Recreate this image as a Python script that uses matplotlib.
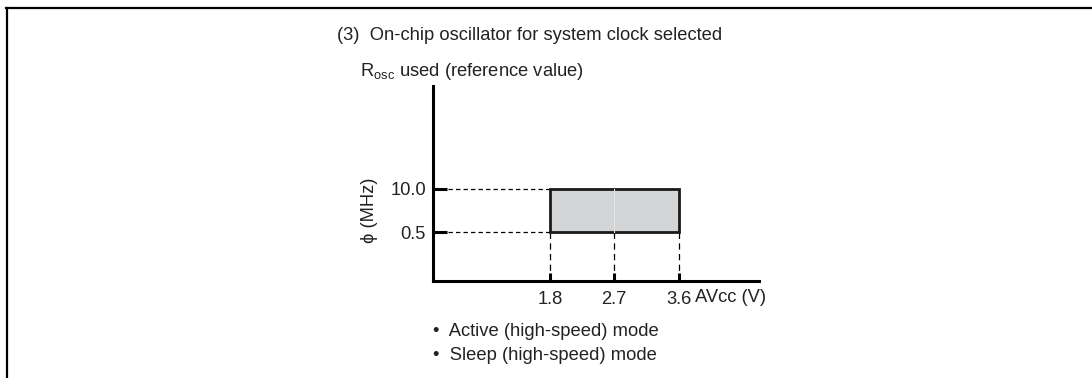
import matplotlib
matplotlib.use("Agg")
import matplotlib.pyplot as plt
from matplotlib.lines import Line2D
from matplotlib.patches import Rectangle

## Operating range values
voltages = [1.8, 2.7, 3.6]          # AVcc (V)
freqs = [0.5, 10.0]                 # phi (MHz)
volt_labels = ["1.8", "2.7", "3.6"]
freq_labels = ["0.5", "10.0"]
modes = ["Active (high-speed) mode", "Sleep (high-speed) mode"]

title = "(3)  On-chip oscillator for system clock selected"
subtitle = r"R$_{\mathregular{osc}}$ used (reference value)"

plt.rcParams["font.family"] = ["Liberation Sans", "DejaVu Sans"]
plt.rcParams["font.size"] = 13.2

W, H = 1092, 378
fig = plt.figure(figsize=(W / 100, H / 100), dpi=100)

def px(x, y):
    # pixel coords (from top left) to figure fraction
    return x / W, 1 - y / H

# page frame, top and left edges
fig.add_artist(Line2D([6 / W, 1], [1 - 7.5 / H] * 2, color="black", lw=1.6, transform=fig.transFigure))
fig.add_artist(Line2D([6.5 / W] * 2, [0, 1 - 7.5 / H], color="black", lw=1.6, transform=fig.transFigure))

# axes box: y axis at x=433, x axis at y=281
l, b = px(433, 281)
r, t = px(759, 86)
ax = fig.add_axes([l, b, r - l, t - b])
ax.set_xlim(0.17, 4.72)
ax.set_ylim(-10.3, 32.7)

for side in ["top", "right"]:
    ax.spines[side].set_visible(False)
for side in ["left", "bottom"]:
    ax.spines[side].set_linewidth(2.2)

# operating area
ax.add_patch(Rectangle((voltages[0], freqs[0]), voltages[-1] - voltages[0], freqs[1] - freqs[0],
                       facecolor="#d3d4d5", edgecolor="#1a1a1a", lw=2.0, zorder=3))
ax.plot([voltages[1], voltages[1]], freqs, color="#e4e4e4", lw=0.8, zorder=4)

# dashed guide lines
for f in freqs:
    ax.plot([0.17, voltages[0]], [f, f], color="black", lw=0.9, ls=(0, (3.5, 2.5)), zorder=2)
for v in voltages:
    ax.plot([v, v], [-10.3, freqs[0]], color="black", lw=0.9, ls=(0, (5, 3.5)), zorder=2)

ax.set_xticks(voltages, volt_labels)
ax.set_yticks(freqs, freq_labels)
ax.tick_params(axis="y", direction="in", length=10, width=2.2, pad=5)
ax.tick_params(axis="x", direction="in", length=6, width=2.2, pad=7)
for lab in ax.get_xticklabels() + ax.get_yticklabels():
    lab.set_color("#222222")

fig.text(*px(695, 298), "AVcc (V)", ha="left", va="center", color="#222222")
fig.text(*px(369, 210), "\u03d5 (MHz)", rotation=90, ha="center", va="center", color="#222222")
fig.text(*px(337, 35), title, ha="left", va="center", color="#222222")
fig.text(*px(360, 72), subtitle, ha="left", va="center", color="#222222")

for i, m in enumerate(modes):
    fig.text(*px(433, 331 + 24 * i), "\u2022  " + m, ha="left", va="center", color="#222222")

fig.savefig("out.png", dpi=100, facecolor="white")
